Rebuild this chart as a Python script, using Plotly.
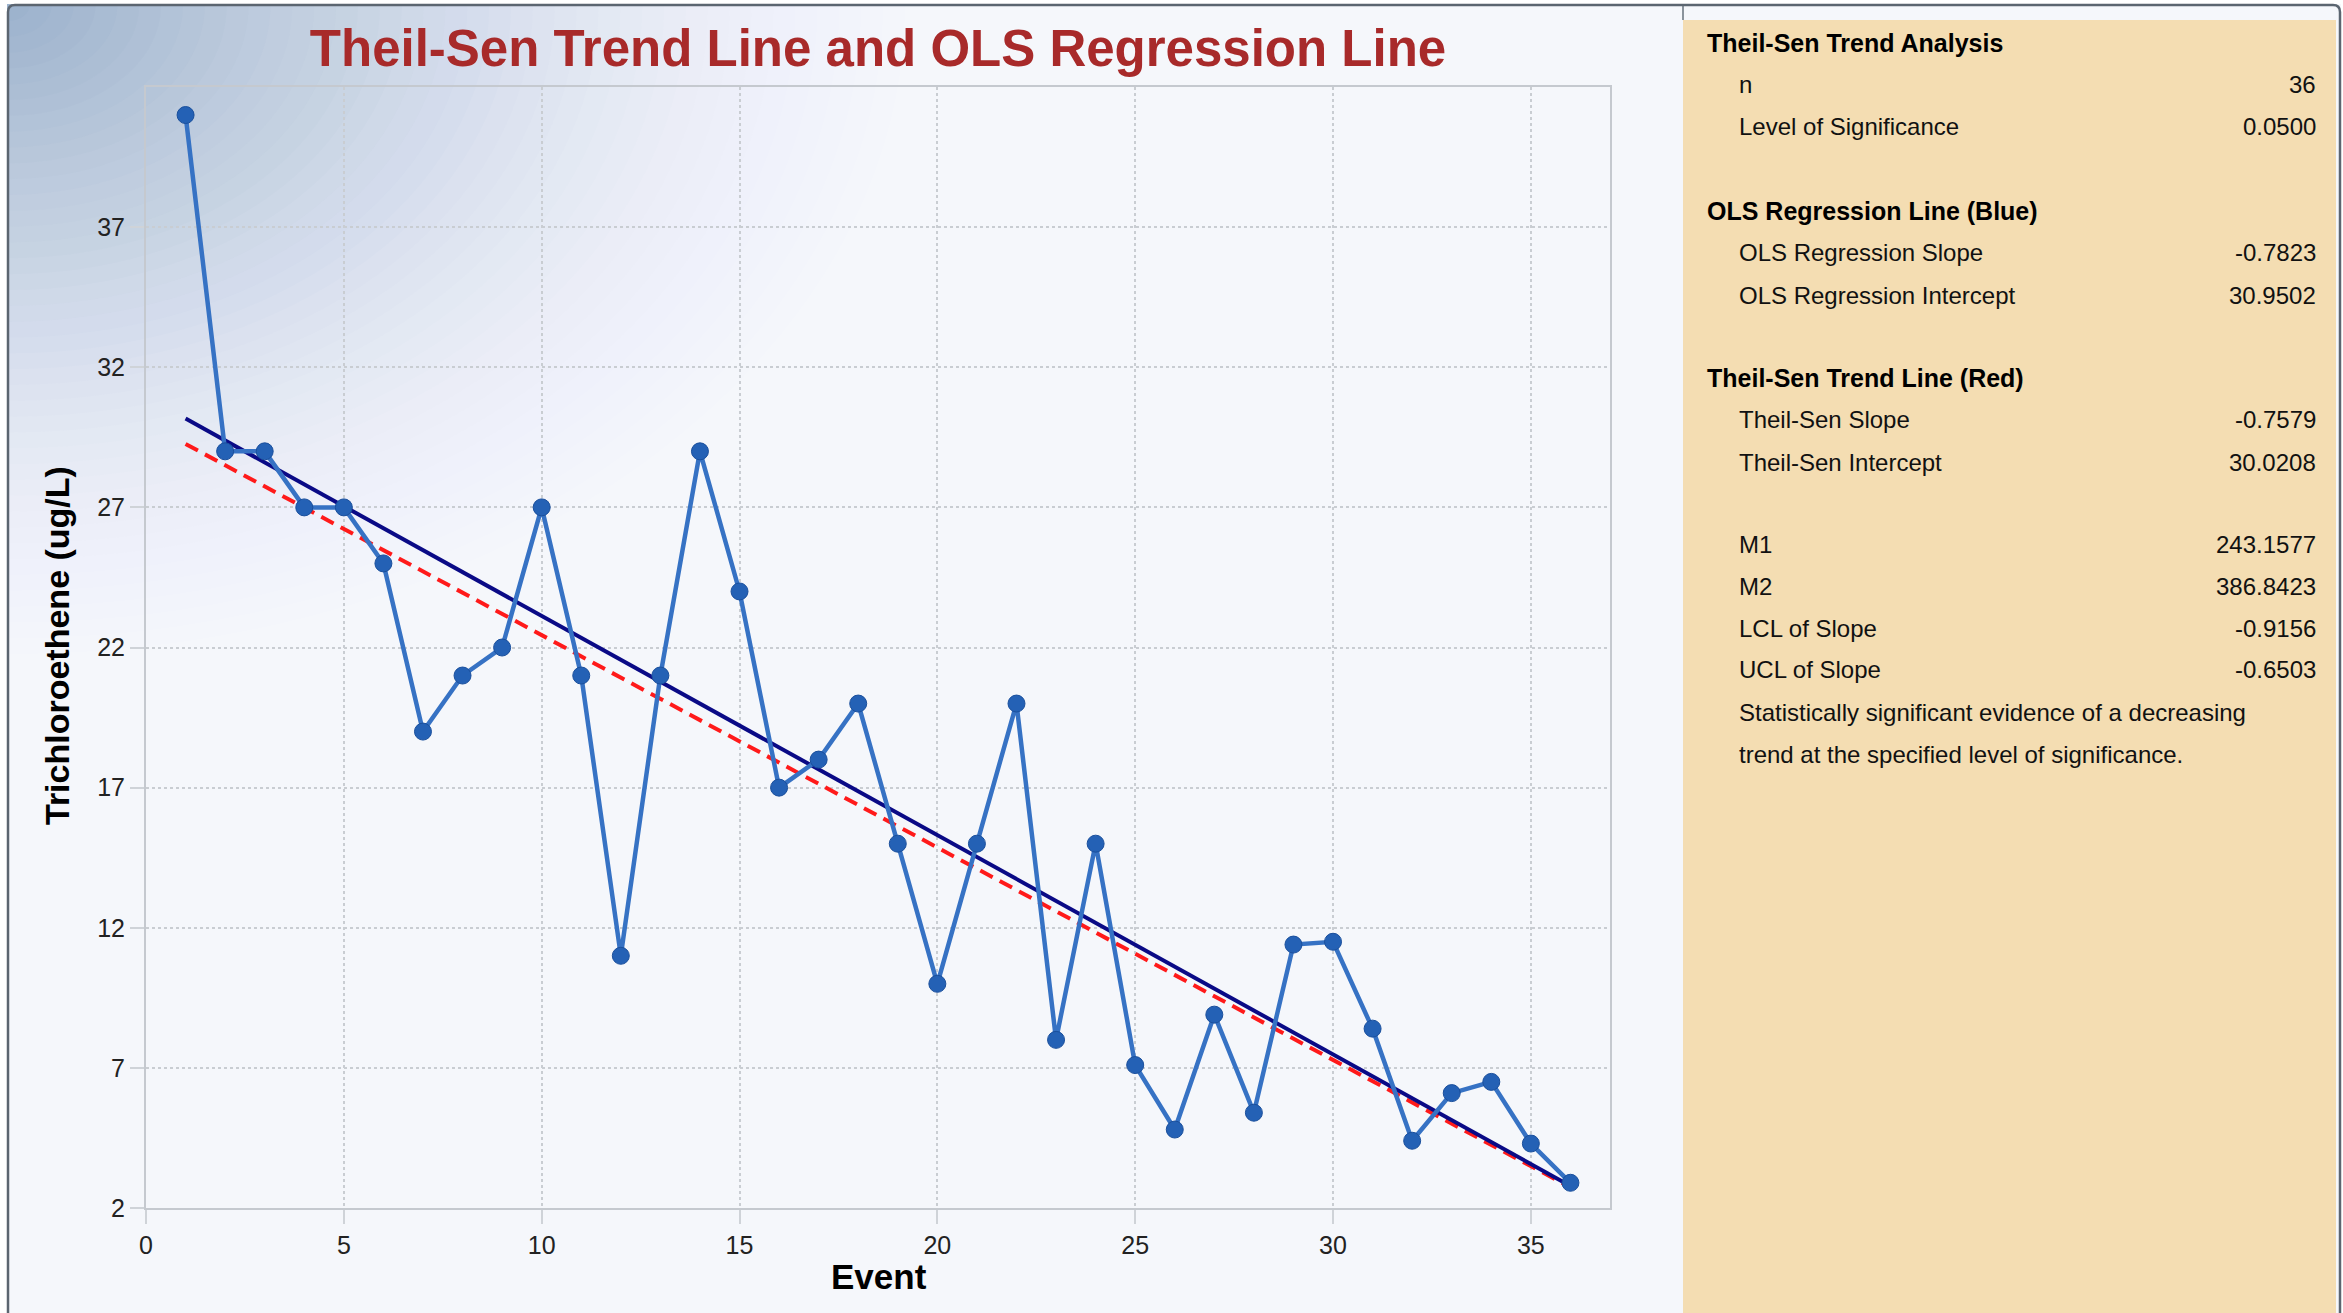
import plotly.graph_objects as go

# ---- data -------------------------------------------------------------
events = list(range(1, 37))
tce_ugl = [41.0, 29.0, 29.0, 27.0, 27.0, 25.0, 19.0, 21.0, 22.0, 27.0,
           21.0, 11.0, 21.0, 29.0, 24.0, 17.0, 18.0, 20.0, 15.0, 10.0,
           15.0, 20.0, 8.0, 15.0, 7.1, 4.8, 8.9, 5.4, 11.4, 11.5,
           8.4, 4.4, 6.1, 6.5, 4.3, 2.9]

n_obs = 36
alpha = 0.0500
ols_slope = -0.7823
ols_intercept = 30.9502
ts_slope = -0.7579
ts_intercept = 30.0208
m1 = 243.1577
m2 = 386.8423
lcl_slope = -0.9156
ucl_slope = -0.6503
conclusion = ["Statistically significant evidence of a decreasing",
              "trend at the specified level of significance."]

x_ticks = [0, 5, 10, 15, 20, 25, 30, 35]
y_ticks = [2, 7, 12, 17, 22, 27, 32, 37]

# ---- page geometry (pixels) ------------------------------------------
FIG_W, FIG_H = 2343, 1313
PL, PR, PT, PB = 146, 1610, 87, 1208     # plot area edges
PW, PH = PR - PL, PB - PT


def fx(px):
    return (px - PL) / PW


def fy(py):
    return (PB - py) / PH


fig = go.Figure()

# Theil-Sen line (red dashed) and OLS line (navy) from the stated fits
x_fit = [events[0], events[-1]]
fig.add_trace(go.Scatter(
    x=x_fit, y=[ts_intercept + ts_slope * x for x in x_fit],
    mode="lines", line=dict(color="#ff1a1a", width=4, dash="14px,8px"),
    hoverinfo="skip"))
fig.add_trace(go.Scatter(
    x=x_fit, y=[ols_intercept + ols_slope * x for x in x_fit],
    mode="lines", line=dict(color="#0a0a86", width=4),
    hoverinfo="skip"))

# measured concentrations
fig.add_trace(go.Scatter(
    x=events, y=tce_ugl, mode="lines+markers",
    line=dict(color="#3672c4", width=4.5),
    marker=dict(size=17, color="#2461b5", line=dict(color="#1a4f9c", width=1))))

shapes = []

# soft steel-blue wash from the top-left corner
n_layers = 48
prev_cov = 0.0
rx_max, ry_max = 1050, 760
for k in range(n_layers):
    d = 1 - (k + 1) / n_layers
    cov = 0.78 * (1 - d) ** 1.9
    a = (cov - prev_cov) / (1 - prev_cov)
    prev_cov = cov
    rx = rx_max * (1 - k / n_layers)
    ry = ry_max * (1 - k / n_layers)
    shapes.append(dict(type="circle", xref="paper", yref="paper", layer="below",
                       x0=fx(8 - rx), x1=fx(8 + rx), y0=fy(5 - ry), y1=fy(5 + ry),
                       fillcolor="#8ea7c7", opacity=a, line=dict(width=0)))

# white outside the frame
shapes.append(dict(type="rect", xref="paper", yref="paper", layer="below",
                   x0=fx(0), x1=fx(7), y0=fy(0), y1=fy(FIG_H),
                   fillcolor="white", line=dict(width=0)))
shapes.append(dict(type="rect", xref="paper", yref="paper", layer="below",
                   x0=fx(0), x1=fx(FIG_W), y0=fy(0), y1=fy(4),
                   fillcolor="white", line=dict(width=0)))
shapes.append(dict(type="rect", xref="paper", yref="paper", layer="below",
                   x0=fx(2341), x1=fx(FIG_W), y0=fy(0), y1=fy(FIG_H),
                   fillcolor="white", line=dict(width=0)))

# statistics panel
shapes.append(dict(type="rect", xref="paper", yref="paper", layer="below",
                   x0=fx(1683), x1=fx(2336), y0=fy(20), y1=fy(FIG_H + 5),
                   fillcolor="#f4ddb2", line=dict(width=0)))
shapes.append(dict(type="line", xref="paper", yref="paper", layer="below",
                   x0=fx(1683), x1=fx(1683), y0=fy(5), y1=fy(20),
                   line=dict(color="#8a939c", width=2)))

# outer frame with rounded top corners
r = 7


def P(px, py):
    return f"{fx(px):.6f},{fy(py):.6f}"


frame = (f"M {P(8, FIG_H + 5)} L {P(8, 5 + r)} Q {P(8, 5)} {P(8 + r, 5)} "
         f"L {P(2340 - r, 5)} Q {P(2340, 5)} {P(2340, 5 + r)} L {P(2340, FIG_H + 5)}")
shapes.append(dict(type="path", xref="paper", yref="paper", layer="below",
                   path=frame, line=dict(color="#5b6570", width=2.5)))

annotations = []

# axis titles
annotations.append(dict(text="<b>Event</b>", xref="paper", yref="paper",
                        x=fx(879), y=fy(1276), xanchor="center", yanchor="middle",
                        showarrow=False, font=dict(size=35, color="#000000")))
annotations.append(dict(text="<b>Trichloroethene (ug/L)</b>", xref="paper", yref="paper",
                        x=fx(57), y=fy(646), xanchor="center", yanchor="middle",
                        textangle=-90, showarrow=False,
                        font=dict(size=34, color="#000000")))

# panel text
LABEL_X, HEAD_X, VALUE_X = 1737, 1705, 2318
rows = [
    ("head", "Theil-Sen Trend Analysis", None, 43),
    ("item", "n", f"{n_obs}", 85),
    ("item", "Level of Significance", f"{alpha:.4f}", 127),
    ("head", "OLS Regression Line (Blue)", None, 211),
    ("item", "OLS Regression Slope", f"{ols_slope:.4f}", 253),
    ("item", "OLS Regression Intercept", f"{ols_intercept:.4f}", 295),
    ("head", "Theil-Sen Trend Line (Red)", None, 378),
    ("item", "Theil-Sen Slope", f"{ts_slope:.4f}", 420),
    ("item", "Theil-Sen Intercept", f"{ts_intercept:.4f}", 462),
    ("item", "M1", f"{m1:.4f}", 544),
    ("item", "M2", f"{m2:.4f}", 586),
    ("item", "LCL of Slope", f"{lcl_slope:.4f}", 628),
    ("item", "UCL of Slope", f"{ucl_slope:.4f}", 670),
    ("item", conclusion[0], None, 712),
    ("item", conclusion[1], None, 754),
]
for kind, label, value, py in rows:
    if kind == "head":
        annotations.append(dict(text=f"<b>{label}</b>", xref="paper", yref="paper",
                                x=fx(HEAD_X), y=fy(py), xanchor="left", yanchor="middle",
                                showarrow=False, font=dict(size=25, color="#000000")))
    else:
        annotations.append(dict(text=label, xref="paper", yref="paper",
                                x=fx(LABEL_X), y=fy(py), xanchor="left", yanchor="middle",
                                showarrow=False, font=dict(size=24, color="#111111")))
    if value is not None:
        annotations.append(dict(text=value, xref="paper", yref="paper",
                                x=fx(VALUE_X), y=fy(py), xanchor="right", yanchor="middle",
                                showarrow=False, font=dict(size=24, color="#111111")))

axis_common = dict(
    showgrid=True, gridcolor="#c9cdd2", griddash="dot", gridwidth=1.5,
    ticks="outside", ticklen=14, tickcolor="#cfd3d8", tickwidth=1.5,
    showline=True, mirror=True, linecolor="#c5c9cf", linewidth=2,
    zeroline=False, tickfont=dict(size=25, color="#222222"),
)

fig.update_layout(
    width=FIG_W, height=FIG_H,
    margin=dict(l=PL, r=FIG_W - PR, t=PT, b=FIG_H - PB, autoexpand=False),
    paper_bgcolor="#f5f7fb", plot_bgcolor="rgba(0,0,0,0)",
    font=dict(family="Liberation Sans, Arial, sans-serif"),
    showlegend=False,
    title=dict(text="<b>Theil-Sen Trend Line and OLS Regression Line</b>",
               x=0.5, xref="paper", xanchor="center",
               y=1 - 48 / FIG_H, yref="container", yanchor="middle",
               font=dict(size=51, color="#a82a2a")),
    xaxis=dict(range=[0, 37], tickvals=x_ticks, **axis_common),
    yaxis=dict(range=[2, 42], tickvals=y_ticks, **axis_common),
    shapes=shapes,
    annotations=annotations,
)

fig.write_html("out.html")
